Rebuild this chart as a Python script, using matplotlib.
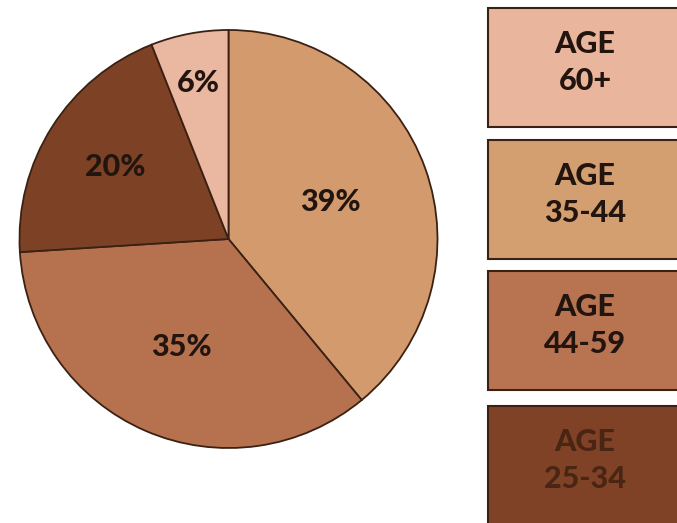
import numpy as np
import matplotlib.pyplot as plt
from matplotlib.patches import Rectangle

# slices, clockwise from the top
shares = [39, 35, 20, 6]
slice_colors = ['#d39b6d', '#b6714e', '#7d4225', '#eab7a0']
label_dist = [0.52, 0.565, 0.64, 0.76]

# legend boxes, top to bottom
box_labels = ['AGE\n60+', 'AGE\n35-44', 'AGE\n44-59', 'AGE\n25-34']
box_colors = ['#e9b59c', '#d49f70', '#b87451', '#7f4226']
box_text = ['#22150f', '#22150f', '#22150f', '#4a2514']

W, H = 677, 523
fig = plt.figure(figsize=(W / 100, H / 100), dpi=100)
ax = fig.add_axes([0, 0, 1, 1])

cx, cy, r = 228.5, H - 239, 209
wedges, _ = ax.pie(shares, colors=slice_colors, startangle=90, counterclock=False,
                   center=(cx, cy), radius=r, frame=True,
                   wedgeprops=dict(edgecolor='#3b2113', linewidth=1.3))
ax.set_xlim(0, W)
ax.set_ylim(0, H)
ax.set_aspect('equal')
ax.axis('off')

for w, v, d in zip(wedges, shares, label_dist):
    a = np.deg2rad((w.theta1 + w.theta2) / 2)
    ax.text(cx + d * r * np.cos(a), cy + d * r * np.sin(a), f'{v}%',
            ha='center', va='center', fontsize=22, fontweight='black',
            family='Lato', color='#22150f')

# boxes on the right
box_top = [8, 140, 271, 406]
box_h = 119
for top, lab, col, tc in zip(box_top, box_labels, box_colors, box_text):
    ax.add_patch(Rectangle((488, H - top - box_h), 200, box_h, facecolor=col,
                           edgecolor='#3b2113', linewidth=1.5, clip_on=False))
    ax.text(585, H - top - box_h / 2 + 5, lab, ha='center', va='center',
            fontsize=22, fontweight='black', family='Lato', color=tc,
            linespacing=1.42)

fig.savefig('out.png', dpi=100)
